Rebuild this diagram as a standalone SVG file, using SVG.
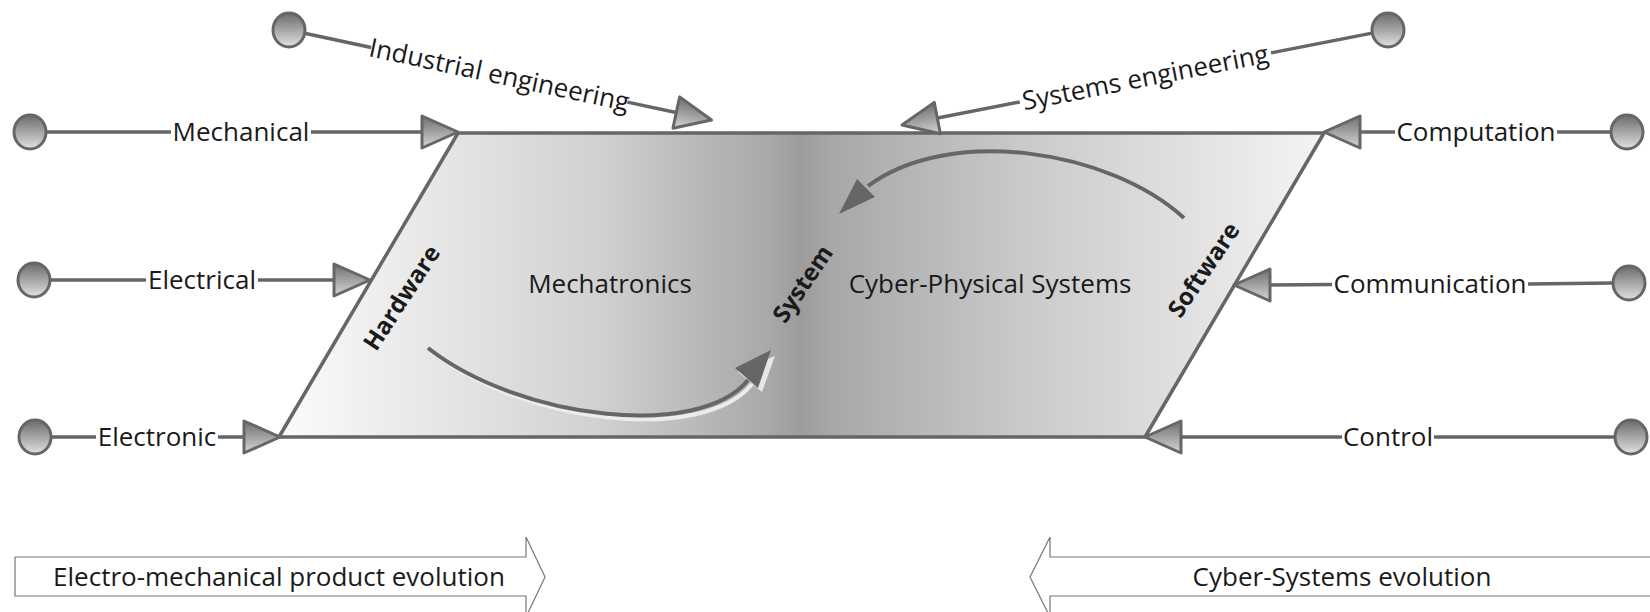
<svg xmlns="http://www.w3.org/2000/svg" width="1650" height="612" viewBox="0 0 1650 612">
<style>
.lbl{font-family:"Open Sans","Liberation Sans",sans-serif;font-size:26px;fill:#1a1a1a;text-anchor:middle}
.bold{font-weight:bold;font-size:24px}
.ln{stroke:#666;stroke-width:3.5;fill:none}
.ah{fill:url(#gTri);stroke:#666;stroke-width:3;stroke-linejoin:round}
.dot{fill:url(#gDot);stroke:#666;stroke-width:3}
.blk{fill:#fff;stroke:#777;stroke-width:1.2}
.crv{stroke:#666;stroke-width:4;fill:none}
</style>
<defs>
<linearGradient id="gBody" gradientUnits="userSpaceOnUse" x1="279" y1="0" x2="1324" y2="0">
<stop offset="0" stop-color="#fbfbfb"/>
<stop offset="0.3" stop-color="#d2d2d2"/>
<stop offset="0.47" stop-color="#a8a8a8"/>
<stop offset="0.5" stop-color="#9c9c9c"/>
<stop offset="0.53" stop-color="#a8a8a8"/>
<stop offset="0.72" stop-color="#cbcbcb"/>
<stop offset="1" stop-color="#f4f4f4"/>
</linearGradient>
<linearGradient id="gTri" x1="0" y1="0" x2="0" y2="1">
<stop offset="0" stop-color="#6e6e6e"/>
<stop offset="1" stop-color="#d6d6d6"/>
</linearGradient>
<linearGradient id="gDot" x1="0" y1="0" x2="0" y2="1">
<stop offset="0" stop-color="#6a6a6a"/>
<stop offset="1" stop-color="#e2e2e2"/>
</linearGradient>
<path id="ahR" class="ah" d="M0,0 L-36,-16 L-36,16 Z"/>
<path id="ahL" class="ah" d="M0,0 L36,-16 L36,16 Z"/>
</defs>

<g id="system-body">
<polygon points="458,133 1324,133 1145,437 279,437" fill="url(#gBody)" stroke="#666" stroke-width="3.5" stroke-linejoin="round"/>
</g>

<g id="label-hardware"><text class="lbl bold" transform="translate(402,298) rotate(-57)" dy="8">Hardware</text></g>
<g id="label-system"><text class="lbl bold" transform="translate(803,284) rotate(-56)" dy="8">System</text></g>
<g id="label-software"><text class="lbl bold" transform="translate(1204,270) rotate(-56)" dy="8">Software</text></g>
<g id="label-mechatronics"><text class="lbl" x="610" y="293">Mechatronics</text></g>
<g id="label-cps"><text class="lbl" x="990" y="293">Cyber-Physical Systems</text></g>

<g id="connectors">
<!-- Mechanical -->
<line class="ln" x1="46" y1="132" x2="171" y2="132"/>
<text class="lbl" x="241" y="141">Mechanical</text>
<line class="ln" x1="311" y1="132" x2="423" y2="132"/>
<use href="#ahR" x="458" y="132"/>
<!-- Electrical -->
<line class="ln" x1="50" y1="280" x2="146" y2="280"/>
<text class="lbl" x="202" y="289">Electrical</text>
<line class="ln" x1="258" y1="280" x2="335" y2="280"/>
<use href="#ahR" x="370" y="280"/>
<!-- Electronic -->
<line class="ln" x1="51" y1="437" x2="96" y2="437"/>
<text class="lbl" x="157" y="446">Electronic</text>
<line class="ln" x1="218" y1="437" x2="245" y2="437"/>
<use href="#ahR" x="280" y="437"/>
<!-- Industrial engineering -->
<g transform="translate(289,30) rotate(12.03)">
<line class="ln" x1="16" y1="0" x2="84" y2="0"/>
<text class="lbl" x="215" y="9">Industrial engineering</text>
<line class="ln" x1="346" y1="0" x2="398" y2="0"/>
<use href="#ahR" x="432" y="0"/>
</g>
<!-- Systems engineering -->
<g transform="translate(902,125) rotate(-11.06)">
<use href="#ahL" x="0" y="0"/>
<line class="ln" x1="35" y1="0" x2="120" y2="0"/>
<text class="lbl" x="248" y="9">Systems engineering</text>
<line class="ln" x1="376" y1="0" x2="479" y2="0"/>
</g>
<!-- Computation -->
<use href="#ahL" x="1324" y="132"/>
<line class="ln" x1="1359" y1="132" x2="1395" y2="132"/>
<text class="lbl" x="1476" y="141">Computation</text>
<line class="ln" x1="1557" y1="132" x2="1611" y2="132"/>
<!-- Communication -->
<use href="#ahL" x="1234" y="285"/>
<line class="ln" x1="1269" y1="285" x2="1332" y2="284.5"/>
<text class="lbl" x="1430" y="293">Communication</text>
<line class="ln" x1="1528" y1="284" x2="1613" y2="283"/>
<!-- Control -->
<use href="#ahL" x="1145" y="437"/>
<line class="ln" x1="1180" y1="437" x2="1342" y2="437"/>
<text class="lbl" x="1388" y="446">Control</text>
<line class="ln" x1="1434" y1="437" x2="1615" y2="437"/>
<!-- Hardware to System curve -->
<path d="M432,352 C524,424 704,444 752,384" stroke="#ececec" stroke-width="4" fill="none"/>
<path d="M738,372 L775,356 L762,392 Z" fill="#e6e6e6"/>
<path class="crv" d="M428,348 C520,420 700,440 748,380"/>
<path d="M771,350 L735,368 L758,388 Z" fill="#666"/>
<!-- Software to System curve -->
<path class="crv" d="M1184,218 C1110,150 950,125 868,186"/>
<path d="M839,214 L857,179 L875,197 Z" fill="#666"/>
</g>

<g id="node-mechanical"><ellipse class="dot" cx="30" cy="132" rx="16" ry="17"/></g>
<g id="node-electrical"><ellipse class="dot" cx="34" cy="280" rx="16" ry="17"/></g>
<g id="node-electronic"><ellipse class="dot" cx="35" cy="437" rx="16" ry="17"/></g>
<g id="node-industrial"><ellipse class="dot" cx="289" cy="30" rx="16" ry="17"/></g>
<g id="node-systems-eng"><ellipse class="dot" cx="1388" cy="30" rx="16" ry="17"/></g>
<g id="node-computation"><ellipse class="dot" cx="1627" cy="132" rx="16" ry="17"/></g>
<g id="node-communication"><ellipse class="dot" cx="1629" cy="283" rx="16" ry="17"/></g>
<g id="node-control"><ellipse class="dot" cx="1631" cy="437" rx="16" ry="17"/></g>

<g id="evo-electro">
<path class="blk" d="M15,557 H526 V537 L545,577 L526,617 V596 H15 Z"/>
<text class="lbl" x="279" y="586">Electro-mechanical product evolution</text>
</g>
<g id="evo-cyber">
<path class="blk" d="M1660,557 H1050 V537 L1030,577 L1050,617 V596 H1660"/>
<text class="lbl" x="1342" y="586">Cyber-Systems evolution</text>
</g>
</svg>
